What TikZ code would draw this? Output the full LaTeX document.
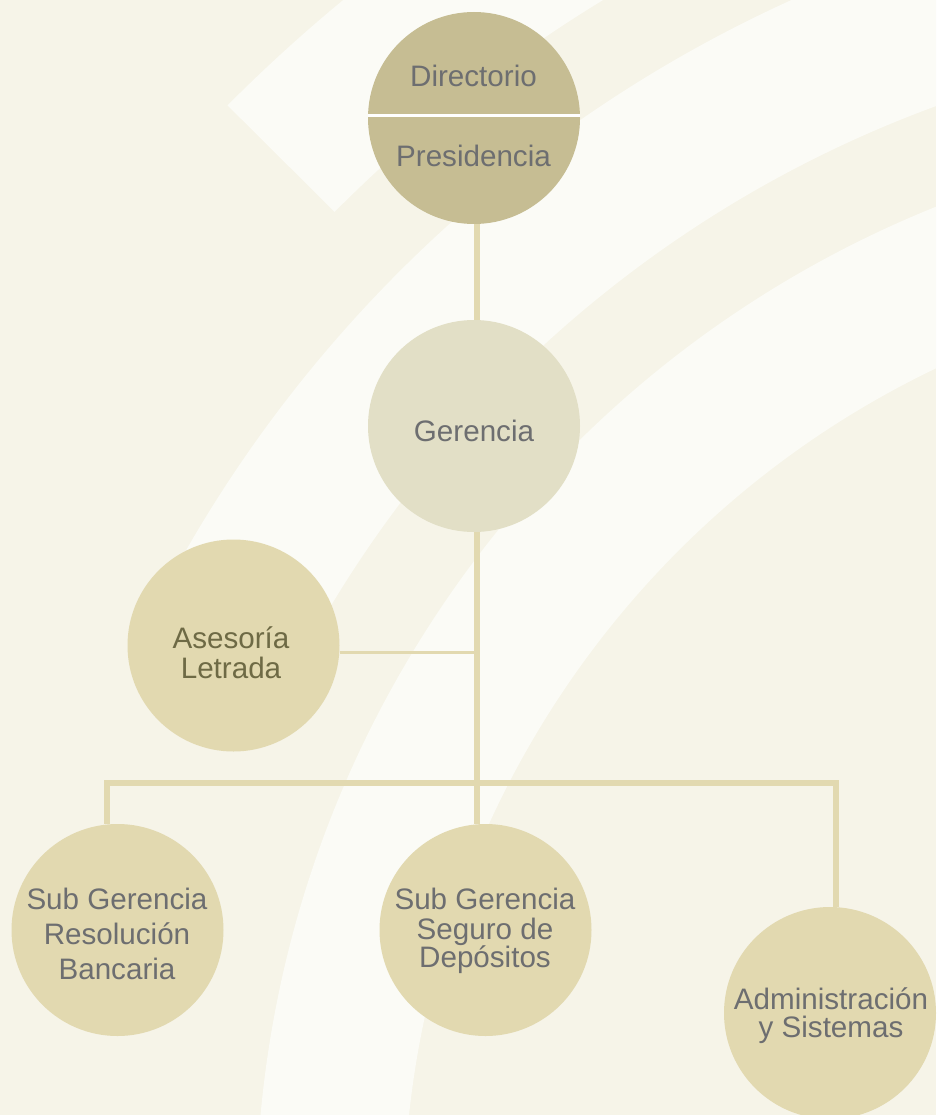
\documentclass[tikz,border=0pt]{standalone}
\usepackage{fontspec}
\setmainfont{Liberation Sans}
\usetikzlibrary{calc}
\definecolor{bgcream}{HTML}{F6F4E8}
\definecolor{bandwhite}{HTML}{FBFBF6}
\definecolor{khaki}{HTML}{C6BD93}
\definecolor{gerfill}{HTML}{E2DFC6}
\definecolor{unitfill}{HTML}{E2D9B0}
\definecolor{txtgray}{HTML}{6D6E70}
\definecolor{txtolive}{HTML}{6E6A45}
\begin{document}
\begin{tikzpicture}[x=1pt,y=-1pt,
  unit/.style={circle, minimum size=212pt, inner sep=0pt, draw=none},
  lbl/.style={anchor=base, font=\fontsize{29.6}{30}\selectfont, text=txtgray, inner sep=0pt},
  link/.style={draw=unitfill, line width=6pt},
  thinlink/.style={draw=unitfill, line width=3pt}]
\useasboundingbox (0,0) rectangle (936,1115);
\fill[bgcream] (0,0) rectangle (936,1115);
% background bands
\begin{scope}
\clip (0,0) rectangle (936,1115);
\begin{scope}[y=1pt]
\coordinate (C) at (1342,-1214);
\fill[bandwhite] ($(C)+(50:1572)$) arc[start angle=50,end angle=135.15,radius=1572]
  -- ($(C)+(135.15:1421)$) arc[start angle=135.15,end angle=50,radius=1421] -- cycle;
\fill[bandwhite] ($(C)+(50:1333)$) arc[start angle=50,end angle=152.84,radius=1333]
  -- ($(C)+(152.84:1180)$) arc[start angle=152.84,end angle=50,radius=1180] -- cycle;
\fill[bandwhite] ($(C)+(60:1086)$) arc[start angle=60,end angle=200,radius=1086]
  -- ($(C)+(200:938)$) arc[start angle=200,end angle=60,radius=938] -- cycle;
\end{scope}
\end{scope}
% circle positions
\coordinate (spine) at (477,0);
\coordinate (busL) at (107,783);
\coordinate (busR) at (836,783);
\path (474,118) node[unit] (dir) {}
      (474,426) node[unit] (ger) {}
      (233.5,645.5) node[unit] (ase) {}
      (117.5,930) node[unit] (sgrb) {}
      (485.5,930) node[unit] (sgsd) {}
      (830,1013) node[unit] (adm) {};
% connectors
\draw[link] (spine |- dir.south) -- (spine |- ger.north);
\draw[link] (spine |- ger.south) -- (spine |- sgsd.north);
\draw[thinlink] ([yshift=-7pt]ase.east) -- ([yshift=-7pt]ase.east -| spine);
\draw[link] (busL |- sgrb.north) -- (busL) -- (busR) -- (busR |- adm.north);
% circles
\fill[khaki] (dir) circle[radius=106];
\fill[gerfill] (ger) circle[radius=106];
\fill[unitfill] (ase) circle[radius=106];
\fill[unitfill] (sgrb) circle[radius=106];
\fill[unitfill] (sgsd) circle[radius=106];
\fill[unitfill] (adm) circle[radius=106];
\draw[white, line width=3pt] ([yshift=2.5pt]dir.west) -- ([yshift=2.5pt]dir.east);
% labels
\node[lbl] (t1) at (473.5,87) {Directorio};
\node[lbl] (t2) at (473.5,167) {Presidencia};
\node[lbl] (t3) at (474,441) {Gerencia};
\node[lbl, text=txtolive] (t4) at (231,648) {Asesoría};
\node[lbl, text=txtolive] (t5) at (231,678) {Letrada};
\node[lbl] (t6) at (117,909) {Sub Gerencia};
\node[lbl] (t7) at (117,944) {Resolución};
\node[lbl] (t8) at (117,979) {Bancaria};
\node[lbl] (t9) at (485,909) {Sub Gerencia};
\node[lbl] (t10) at (485,939) {Seguro de};
\node[lbl] (t11) at (485,967) {Depósitos};
\node[lbl] (t12) at (831,1009) {Administración};
\node[lbl] (t13) at (831,1037) {y Sistemas};
\end{tikzpicture}
\end{document}
